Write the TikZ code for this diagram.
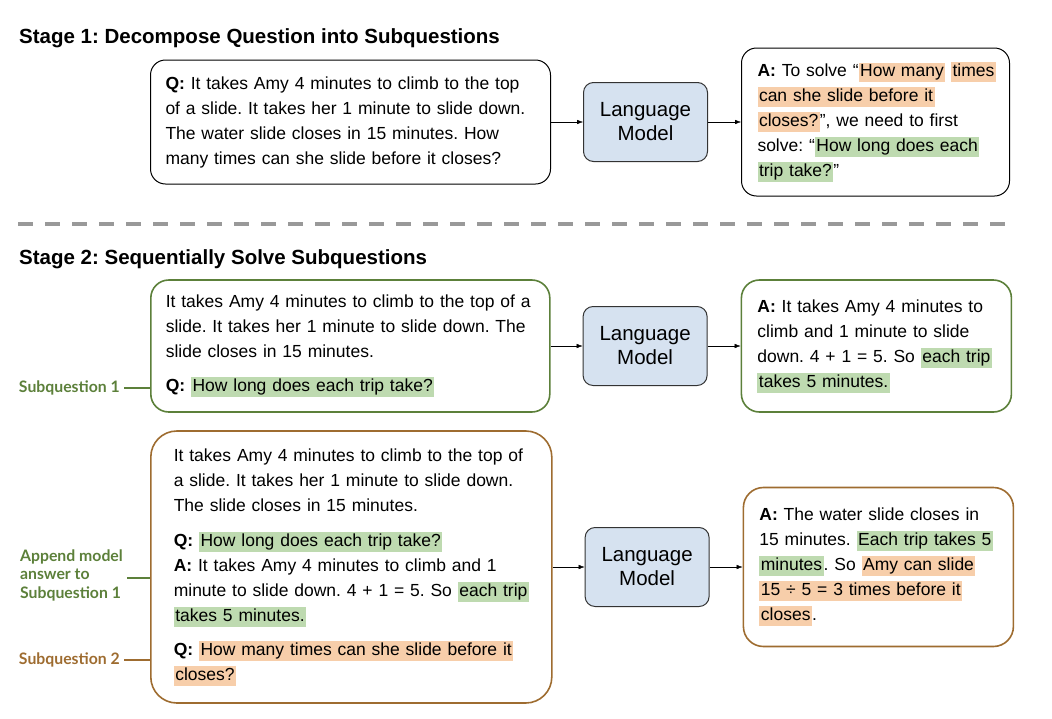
\documentclass[tikz,border=0pt]{standalone}
\usepackage{fontspec}
\setmainfont{Liberation Sans}
\newfontfamily\lblfont{Lato}
\usetikzlibrary{positioning,arrows.meta}
\frenchspacing

\definecolor{hlgreen}{RGB}{190,218,176}
\definecolor{hlorange}{RGB}{247,206,170}
\definecolor{sqgreen}{RGB}{92,128,58}
\definecolor{sqbrown}{RGB}{158,108,48}
\definecolor{lmblue}{RGB}{214,226,240}

\newcommand{\hlbox}[2]{{\setlength{\fboxsep}{1.5pt}\colorbox{#1}{\rule[-4pt]{0pt}{16pt}#2}}}
\newcommand{\hlg}[1]{\hlbox{hlgreen}{#1}}
\newcommand{\hlo}[1]{\hlbox{hlorange}{#1}}
\newcommand{\bodysize}{\fontsize{17.5}{25}\selectfont}

\begin{document}
\begin{tikzpicture}[
  x=1pt, y=1pt,
  >={Latex[length=6pt,width=4.5pt]},
  textbox/.style={rectangle, draw, line width=1pt, align=left, anchor=west, font=\bodysize, inner xsep=15pt,
    execute at begin node={\rightskip=-30pt plus 1fil\relax}},
  lm/.style={rectangle, draw=black!80, line width=1pt, fill=lmblue, rounded corners=10pt, minimum width=124pt, minimum height=79pt, align=center, font=\fontsize{20.5}{24}\selectfont},
  title/.style={anchor=base west, font=\fontsize{20.5}{24}\selectfont\bfseries, inner sep=0pt},
  lbl/.style={anchor=east, font=\lblfont\bfseries\fontsize{15.8}{18.5}\selectfont, align=left, inner xsep=4pt},
  node distance=32pt
]
\useasboundingbox (0,0) rectangle (1052,-718);

% Stage 1
\node[title] (t1) at (19,-43) {Stage 1: Decompose Question into Subquestions};
\node[textbox, rounded corners=15pt, text width=370pt, minimum height=124pt] (q1) at (150,-122)
  {\textbf{Q:} It takes Amy 4 minutes to climb to the top\\
   of a slide. It takes her 1 minute to slide down.\\
   The water slide closes in 15 minutes. How\\
   many times can she slide before it closes?};
\node[lm, right=of q1] (lm1) {Language\\Model};
\node[textbox, rounded corners=15pt, inner xsep=16pt, text width=236pt, minimum height=148pt, right=33pt of lm1] (a1)
  {\textbf{A:} To solve “\hlo{How many} \hlo{times}\\
   \hlo{can she slide before it}\\
   \hlo{closes?}”, we need to first\\
   solve: “\hlg{How long does each}\\
   \hlg{trip take?}”};
\draw[->] (q1) -- (lm1);
\draw[->] (lm1) -- (a1);

\draw[black!40, line width=4pt, dash pattern=on 15pt off 12pt] (18,-224) -- (1011,-224);

% Stage 2
\node[title] (t2) at (19,-264) {Stage 2: Sequentially Solve Subquestions};
\node[textbox, draw=sqgreen, line width=1.6pt, rounded corners=18pt, text width=369pt, minimum height=132pt] (q2) at (150,-346)
  {It takes Amy 4 minutes to climb to the top of a\\
   slide. It takes her 1 minute to slide down. The\\
   slide closes in 15 minutes.\\[9pt]
   \textbf{Q:} \hlg{How long does each trip take?}};
\node[lm, right=of q2] (lm2) {Language\\Model};
\node[textbox, draw=sqgreen, line width=1.6pt, rounded corners=18pt, inner xsep=16pt, text width=238pt, minimum height=132pt, right=33pt of lm2] (a2)
  {\textbf{A:} It takes Amy 4 minutes to\\
   climb and 1 minute to slide\\
   down. 4 + 1 = 5. So \hlg{each trip}\\
   \hlg{takes 5 minutes.}};
\draw[->] (q2) -- (lm2);
\draw[->] (lm2) -- (a2);

\node[textbox, draw=sqbrown, line width=1.6pt, rounded corners=26pt, inner xsep=23pt, text width=355pt, minimum height=272pt] (q3) at (150,-567)
  {It takes Amy 4 minutes to climb to the top of\\
   a slide. It takes her 1 minute to slide down.\\
   The slide closes in 15 minutes.\\[10pt]
   \textbf{Q:} \hlg{How long does each trip take?}\\
   \textbf{A:} It takes Amy 4 minutes to climb and 1\\
   minute to slide down. 4 + 1 = 5. So \hlg{each trip}\\
   \hlg{takes 5 minutes.}\\[9pt]
   \textbf{Q:} \hlo{How many times can she slide before it}\\
   \hlo{closes?}};
\node[lm, right=of q3] (lm3) {Language\\Model};
\node[textbox, draw=sqbrown, line width=1.6pt, rounded corners=20pt, inner xsep=16pt, text width=238pt, minimum height=159pt, right=33pt of lm3] (a3)
  {\textbf{A:} The water slide closes in\\
   15 minutes. \hlg{Each trip takes 5}\\
   \hlg{minutes}. So \hlo{Amy can slide}\\
   \hlo{15 ÷ 5 = 3 times before it}\\
   \hlo{closes}.};
\draw[->] (q3) -- (lm3);
\draw[->] (lm3) -- (a3);

% side labels
\node[lbl, text=sqgreen] (sq1) at (124,-388) {Subquestion 1};
\node[lbl, text=sqgreen] (app) at (127,-575) {Append model\\answer to\\Subquestion 1};
\node[lbl, text=sqbrown] (sq2) at (124,-660) {Subquestion 2};
\draw[sqgreen, line width=1.3pt] (sq1.east) -- (sq1.east -| q2.west);
\draw[sqgreen, line width=1.3pt] ([yshift=-3pt]app.east) -- ([yshift=-3pt]app.east -| q3.west);
\draw[sqbrown, line width=1.3pt] (sq2.east) -- (sq2.east -| q3.west);
\end{tikzpicture}
\end{document}
